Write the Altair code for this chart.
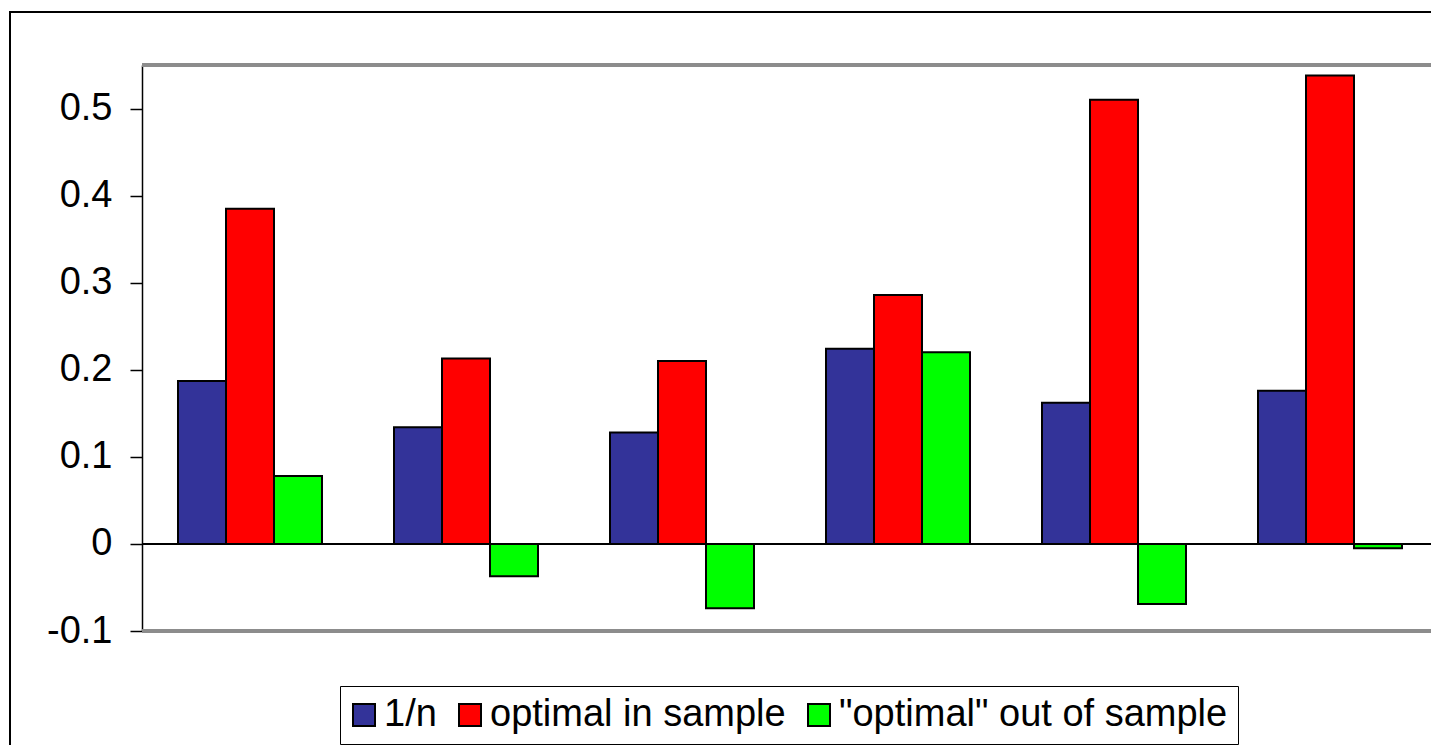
import altair as alt
import pandas as pd

groups = ["1", "2", "3", "4", "5", "6"]
series = ["1/n", "optimal in sample", "\"optimal\" out of sample"]
equal_weight = [0.187, 0.134, 0.128, 0.224, 0.162, 0.176]
optimal_in = [0.385, 0.213, 0.210, 0.286, 0.510, 0.538]
optimal_out = [0.078, -0.037, -0.074, 0.220, -0.069, -0.005]
colors = ["#333399", "#FF0000", "#00FF00"]
y_ticks = [-0.1, 0, 0.1, 0.2, 0.3, 0.4, 0.5]

rows = []
for vals, s in zip([equal_weight, optimal_in, optimal_out], series):
    for g, v in zip(groups, vals):
        rows.append({"group": g, "series": s, "value": v})
df = pd.DataFrame(rows)

FONT = "Liberation Sans"
W, H = 1289, 566

yscale = alt.Scale(domain=[-0.1, 0.55], nice=False, zero=False)

bars = alt.Chart(df).mark_bar(stroke="black", strokeWidth=2).encode(
    x=alt.X("group:N", sort=groups, axis=None,
            scale=alt.Scale(range=[0, 1296], paddingInner=1/3, paddingOuter=1/6)),
    xOffset=alt.XOffset("series:N", sort=series),
    y=alt.Y("value:Q", scale=yscale,
            axis=alt.Axis(values=y_ticks, labelFontSize=38, labelFont=FONT,
                          labelColor="black", tickSize=12, tickColor="black",
                          tickWidth=1.5, domainColor="black", domainWidth=1.5,
                          grid=False, title=None, labelPadding=18,
                          labelExpr="datum.value < 0 ? '-' + format(-datum.value, '.1f') : (datum.value == 0 ? '0' : format(datum.value, '.1f'))")),
    color=alt.Color("series:N", sort=series,
                    scale=alt.Scale(domain=series, range=colors),
                    legend=alt.Legend(title=None, orient="none", legendX=198, legendY=621,
                                      direction="horizontal", strokeColor="black",
                                      padding=10, labelFontSize=38, labelFont=FONT,
                                      labelColor="black", symbolType="square",
                                      symbolSize=484, symbolStrokeWidth=2,
                                      symbolStrokeColor="black",
                                      symbolOffset={"expr": "-5"},
                                      labelOffset=1, labelLimit=1000,
                                      columnPadding=18)),
)

zero_line = alt.Chart(df).mark_rule(color="black", strokeWidth=1.5).encode(
    y=alt.datum(0, scale=yscale), x=alt.value(0), x2=alt.value(1300)
)

top_line = alt.Chart(df).mark_rule(color="#8c8c8c", strokeWidth=2.5).encode(
    y=alt.value(0), x=alt.value(0), x2=alt.value(1300)
)
bottom_line = alt.Chart(df).mark_rule(color="#8c8c8c", strokeWidth=2.5).encode(
    y=alt.value(H), x=alt.value(0), x2=alt.value(1300)
)
outer_left = alt.Chart(df).mark_rule(color="black", strokeWidth=2).encode(
    x=alt.value(-132), y=alt.value(-53), y2=alt.value(H + 200)
)
outer_top = alt.Chart(df).mark_rule(color="black", strokeWidth=2).encode(
    y=alt.value(-53), x=alt.value(-133), x2=alt.value(1400)
)

chart = alt.layer(zero_line, top_line, bottom_line, outer_left, outer_top, bars).properties(
    width=W, height=H,
    autosize=alt.AutoSizeParams(type="none"),
    padding={"left": 142, "top": 65, "right": 0, "bottom": 114},
).configure_view(strokeWidth=0).configure(background="white")

chart.save("out.html", embed_options={"renderer": "svg", "actions": False})
